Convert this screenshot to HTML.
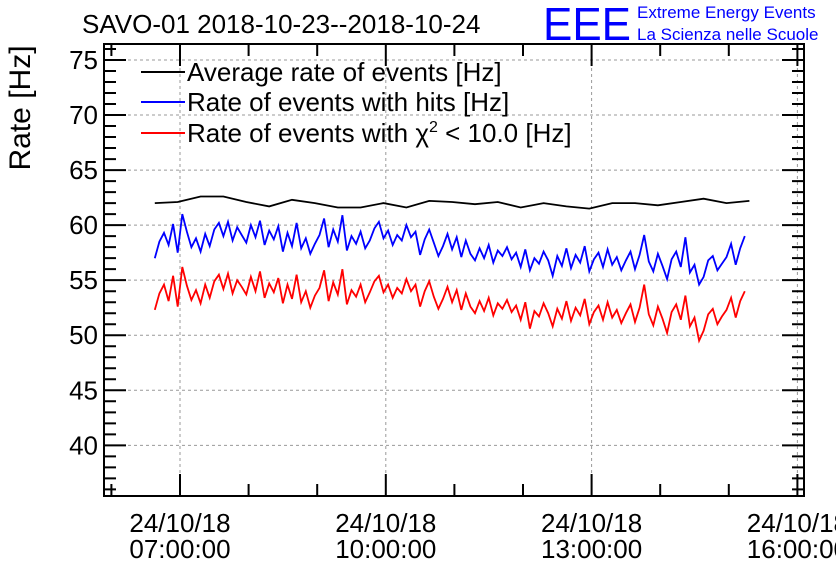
<!DOCTYPE html>
<html><head><meta charset="utf-8"><style>
body{margin:0;background:#fff}
svg text{font-family:"Liberation Sans",sans-serif}
</style></head><body>
<svg id="chart" width="836" height="572" xmlns="http://www.w3.org/2000/svg">
<rect width="836" height="572" fill="#fff"/>
<text x="82" y="33" font-size="26">SAVO-01 2018-10-23--2018-10-24</text>
<g>
<text x="543" y="40" font-size="46" fill="#0000ff" textLength="88" lengthAdjust="spacingAndGlyphs">EEE</text>
<text x="637" y="18" font-size="17" fill="#0000ff">Extreme Energy Events</text>
<text x="637" y="40" font-size="17" fill="#0000ff">La Scienza nelle Scuole</text>
</g>
<text transform="translate(30,108) rotate(-90)" text-anchor="middle" font-size="30">Rate [Hz]</text>
<g id="grid"></g><g id="axes"></g><g id="series"></g>
<g>
<g><line x1="141" y1="72" x2="185" y2="72" stroke="#000" stroke-width="2"/><text x="187" y="81" font-size="26">Average rate of events [Hz]</text></g>
<g><line x1="141" y1="102" x2="185" y2="102" stroke="#0000ff" stroke-width="2"/><text x="187" y="111" font-size="26">Rate of events with hits [Hz]</text></g>
<g><line x1="141" y1="133" x2="185" y2="133" stroke="#ff0000" stroke-width="2"/><text x="187" y="142" font-size="26">Rate of events with χ<tspan font-size="16" dy="-10">2</tspan><tspan dy="10"> &lt; 10.0 [Hz]</tspan></text></g>
</g>
</svg>
<script>
const yTicks=[40,45,50,55,60,65,70,75];
const xTickHours=[7,10,13,16];
const xTickLabels=["24/10/18","24/10/18","24/10/18","24/10/18"];
const xTickTimes=["07:00:00","10:00:00","13:00:00","16:00:00"];
const startHour=6+38/60;
const stepFine=4/60, stepAvg=20/60;
const hitsRate=[57.0,58.5,59.3,58.2,60.1,57.5,61.0,59.4,58.0,58.8,57.6,59.2,58.1,59.6,60.2,59.0,60.3,58.6,59.8,59.1,
58.4,60.0,58.9,60.4,58.2,59.5,58.7,59.9,57.6,59.3,58.1,60.2,57.9,58.8,57.4,58.3,59.1,60.6,58.0,59.6,
58.5,60.9,57.7,59.0,58.3,59.4,57.9,58.6,59.7,60.3,58.8,59.5,58.2,59.1,58.6,60.0,58.9,59.4,57.3,58.7,
59.6,58.4,57.2,58.1,59.2,57.8,58.9,57.1,58.6,57.4,56.8,57.9,57.0,58.2,56.6,57.7,57.2,58.0,56.9,57.5,
56.2,57.8,55.9,57.0,56.5,57.6,56.8,55.4,57.2,56.3,57.9,56.1,57.3,56.6,58.1,55.8,56.9,57.5,56.2,57.8,
56.4,57.1,55.9,56.8,57.6,56.0,57.3,59.1,56.7,55.8,57.4,56.3,55.1,56.9,57.6,56.2,58.9,55.7,56.4,54.6,
55.3,56.8,57.2,55.9,56.5,57.1,58.3,56.4,57.9,59.0];
const chi2Rate=[52.3,53.8,54.6,53.1,55.4,52.6,56.2,54.5,53.2,54.1,52.9,54.6,53.4,54.9,55.5,54.2,55.6,53.8,55.0,54.4,
53.7,55.3,54.0,55.8,53.4,54.7,53.9,55.2,52.9,54.6,53.3,55.5,53.0,54.0,52.5,53.6,54.3,55.9,53.1,54.8,
53.7,56.0,52.8,54.1,53.5,54.6,53.0,53.9,54.9,55.4,53.9,54.6,53.4,54.3,53.8,55.1,54.0,54.6,52.6,54.0,
54.9,53.5,52.4,53.3,54.4,53.0,54.1,52.3,53.8,52.6,52.0,53.1,52.2,53.4,51.8,52.9,52.4,53.2,52.1,52.7,
51.4,53.0,50.6,52.2,51.7,52.9,52.0,50.8,52.4,51.5,53.1,51.3,52.5,51.8,53.3,51.0,52.1,52.7,51.4,53.0,
51.6,52.3,51.1,52.0,52.8,51.2,52.5,54.6,51.9,50.9,52.6,51.5,50.2,52.1,52.8,51.4,53.6,50.8,51.6,49.5,
50.4,51.9,52.4,51.0,51.7,52.3,53.4,51.6,53.1,54.0];
const avgRate=[62.0,62.1,62.6,62.6,62.1,61.7,62.3,62.0,61.6,61.6,62.0,61.6,62.2,62.1,61.9,62.1,61.6,62.0,61.7,61.5,62.0,62.0,61.8,62.1,62.4,62.0,62.2];

const L=104,R=804,T=44,B=496;
const x0=180, pxPerHour=68.6;
const yMin=35.4,yMax=76.45;
const xs=h=>x0+(h-7)*pxPerHour;
const ys=v=>B-(v-yMin)/(yMax-yMin)*(B-T);
const NS="http://www.w3.org/2000/svg";
function mk(tag,attrs,parent){const e=document.createElementNS(NS,tag);for(const k in attrs)e.setAttribute(k,attrs[k]);parent.appendChild(e);return e;}
const grid=document.getElementById('grid'),axes=document.getElementById('axes'),series=document.getElementById('series');
yTicks.forEach(v=>{const l=mk('line',{x1:L,x2:R,y1:ys(v),y2:ys(v),stroke:'#999','stroke-dasharray':'3,3'},grid);


const t=mk('text',{x:98,y:ys(v)+9,'text-anchor':'end','font-size':26},axes);t.textContent=v;

});
xTickHours.forEach((h,i)=>{if(xs(h)<R){const l=mk('line',{x1:xs(h),x2:xs(h),y1:T,y2:B,stroke:'#999','stroke-dasharray':'3,3'},grid);

}
const t=mk('text',{x:xs(h),y:532,'text-anchor':'middle','font-size':26},axes);t.textContent=xTickLabels[i];


const t2=mk('text',{x:xs(h),y:558,'text-anchor':'middle','font-size':26},axes);t2.textContent=xTickTimes[i];

});
const frame=mk('rect',{x:L,y:T,width:R-L,height:B-T,fill:'none',stroke:'#000','stroke-width':2},axes);


let tk='';
for(let v=36;v<=76;v++){const y=ys(v);const len=v%5===0?22:12;tk+=`M${L},${y}h${len}M${R},${y}h${-len}`;}
for(let h=6;h<=16;h++){const x=xs(h);if(x<L||x>R)continue;const len=(h-7)%3===0?22:12;tk+=`M${x},${B}v${-len}M${x},${T}v${len}`;}
const ticks=mk('path',{d:tk,stroke:'#000','stroke-width':2,fill:'none'},axes);


function line(arr,step,color,name){const d=arr.map((v,i)=>(i?'L':'M')+xs(startHour+i*step).toFixed(1)+','+ys(v).toFixed(1)).join('');
const p=mk('path',{d:d,stroke:color,'stroke-width':1.8,fill:'none'},series);

}
line(avgRate,stepAvg,'#000','average-rate-line');
line(hitsRate,stepFine,'#0000ff','hits-rate-line');
line(chi2Rate,stepFine,'#ff0000','chi2-rate-line');
</script>
</body></html>
